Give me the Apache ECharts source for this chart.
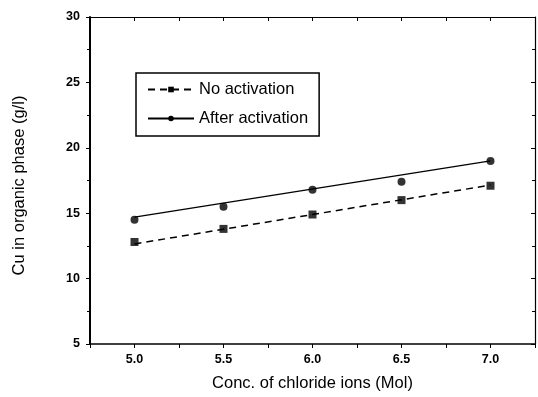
<!DOCTYPE html>
<html>
<head>
<meta charset="utf-8">
<script src="https://cdn.jsdelivr.net/npm/echarts@6/dist/echarts.min.js"></script>
<style>
html,body{margin:0;padding:0;background:#fff;}
#chart{width:538px;height:397px;}
</style>
</head>
<body>
<div id="chart"></div>
<script>
// ---- data ----
var concentrations = [5.0, 5.5, 6.0, 6.5, 7.0];
var noActivation = [12.8, 13.8, 14.9, 16.0, 17.1];
var afterActivation = [14.5, 15.5, 16.8, 17.4, 19.0];
// fitted lines (at x = 5.0 and 7.0)
var fitX = [5.0, 7.0];
var fitNoActivation = [12.65, 17.15];
var fitAfterActivation = [14.7, 19.0];
var seriesNames = ["No activation", "After activation"];
var yTicks = [5, 10, 15, 20, 25, 30];

function pairs(xs, ys) { return xs.map(function (x, i) { return [x, ys[i]]; }); }

var font = "Liberation Sans, Arial, sans-serif";
var chart = echarts.init(document.getElementById('chart'), null, { renderer: 'canvas' });

var option = {
  backgroundColor: '#fff',
  animation: false,
  grid: { left: 90, right: 3, top: 17, bottom: 52, containLabel: false },
  legend: {
    left: 136, top: 73,
    orient: 'vertical',
    data: seriesNames,
    borderColor: '#000', borderWidth: 1.5, borderRadius: 0,
    padding: [8, 11, 9, 11],
    itemGap: 12,
    itemWidth: 46, itemHeight: 7,
    textStyle: { fontFamily: font, fontSize: 16.5, color: '#000' }
  },
  xAxis: [{
    type: 'value', min: 4.75, max: 7.25, interval: 0.25,
    name: 'Conc. of chloride ions (Mol)', nameLocation: 'middle', nameGap: 31,
    nameTextStyle: { fontFamily: font, fontSize: 16.5, color: '#000' },
    axisLine: { show: true, lineStyle: { color: '#000', width: 1.5 }, onZero: false },
    axisTick: { show: true, inside: false, length: 4, lineStyle: { color: '#000', width: 1 } },
    axisLabel: {
      margin: 9, fontFamily: font, fontSize: 12.5, fontWeight: 'bold', color: '#000',
      formatter: function (v) {
        var r = Math.round(v * 100) / 100;
        return concentrations.indexOf(r) >= 0 ? r.toFixed(1) : '';
      }
    },
    splitLine: { show: false }
  }, {
    type: 'value', min: 4.75, max: 7.25, interval: 0.25, position: 'top',
    axisLine: { show: true, lineStyle: { color: '#000', width: 1.2 }, onZero: false },
    axisTick: { show: true, inside: true, length: 4, lineStyle: { color: '#000' } },
    axisLabel: { show: false }, splitLine: { show: false }
  }],
  yAxis: [{
    type: 'value', min: yTicks[0], max: yTicks[yTicks.length - 1], interval: 5,
    name: 'Cu in organic phase (g/l)', nameLocation: 'middle', nameGap: 62,
    nameTextStyle: { fontFamily: font, fontSize: 16.5, color: '#000', padding: [0, 10, 0, 0] },
    axisLine: { show: true, lineStyle: { color: '#000', width: 2 }, onZero: false },
    axisTick: { show: true, inside: false, length: 4, lineStyle: { color: '#000' } },
    minorTick: { show: true, splitNumber: 2, length: 3, lineStyle: { color: '#000' } },
    axisLabel: { margin: 10, fontFamily: font, fontSize: 12.5, fontWeight: 'bold', color: '#000' },
    splitLine: { show: false }
  }, {
    type: 'value', min: yTicks[0], max: yTicks[yTicks.length - 1], interval: 5, position: 'right',
    axisLine: { show: true, lineStyle: { color: '#000', width: 1.2 }, onZero: false },
    axisTick: { show: true, inside: true, length: 4, lineStyle: { color: '#000' } },
    minorTick: { show: true, splitNumber: 2, length: 3, lineStyle: { color: '#000' } },
    axisLabel: { show: false }, splitLine: { show: false }
  }],
  series: [{
    name: seriesNames[0], type: 'line', xAxisIndex: 0, yAxisIndex: 0,
    data: pairs(fitX, fitNoActivation),
    symbol: 'rect', showSymbol: false, symbolSize: 7,
    itemStyle: { color: '#000' },
    lineStyle: { color: '#000', width: 1.5, type: [7, 5] }
  }, {
    name: seriesNames[1], type: 'line', xAxisIndex: 0, yAxisIndex: 0,
    data: pairs(fitX, fitAfterActivation),
    symbol: 'circle', showSymbol: false, symbolSize: 7,
    itemStyle: { color: '#000' },
    lineStyle: { color: '#000', width: 1.5, type: 'solid' }
  }, {
    name: seriesNames[0] + ' data', type: 'scatter', xAxisIndex: 0, yAxisIndex: 0,
    data: pairs(concentrations, noActivation),
    symbol: 'rect', symbolSize: 8, itemStyle: { color: '#000' }
  }, {
    name: seriesNames[1] + ' data', type: 'scatter', xAxisIndex: 0, yAxisIndex: 0,
    data: pairs(concentrations, afterActivation),
    symbol: 'circle', symbolSize: 8, itemStyle: { color: '#000' }
  }]
};
chart.setOption(option);
</script>
</body>
</html>
